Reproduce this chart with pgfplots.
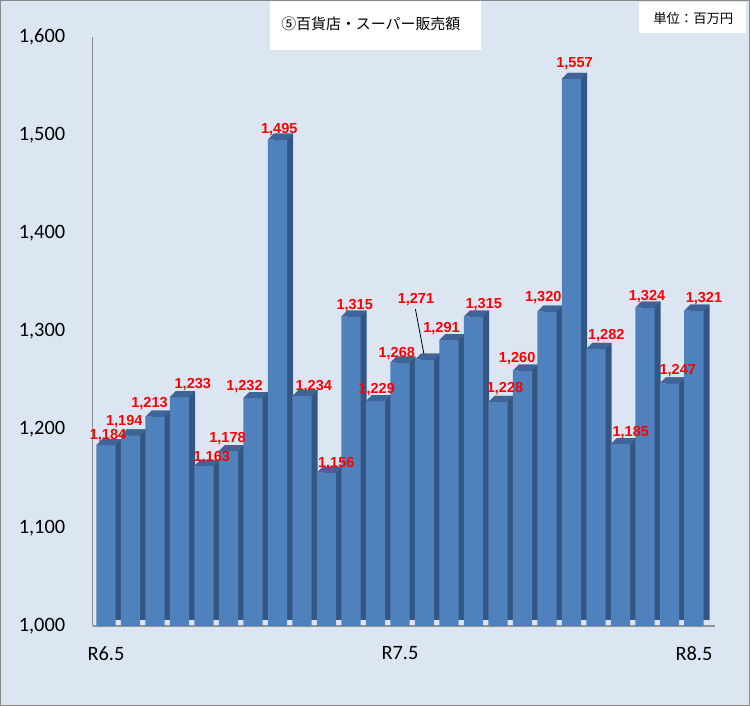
\documentclass[border=0pt]{standalone}
\usepackage{fontspec}
\setmainfont{Liberation Sans}
\newfontfamily\carlito{Carlito}
\newfontfamily\cjk{Noto Sans CJK JP}
\usepackage{pgfplots}
\usepackage{pgfplotstable}
\pgfplotsset{compat=1.18}

\definecolor{bg}{HTML}{DCE6F2}
\definecolor{front}{HTML}{4F81BD}
\definecolor{side}{HTML}{345683}
\definecolor{topc}{HTML}{3F6497}
\definecolor{frame}{HTML}{888888}

\pgfdeclareplotmark{topface}{%
  \pgfpathmoveto{\pgfpoint{-7.3pt}{0pt}}%
  \pgfpathlineto{\pgfpoint{7.3pt}{0pt}}%
  \pgfpathlineto{\pgfpoint{11.8pt}{4.5pt}}%
  \pgfpathlineto{\pgfpoint{-2.8pt}{4.5pt}}%
  \pgfpathclose
  \pgfusepathqfill}

% x, value, label, label offsets (pt)
\pgfplotstableread{
x y lab dx dy
0 1184 1,184 1.5 4.05
1 1194 1,194 -4.7 7.1
2 1213 1,213 -4.1 6.8
3 1233 1,233 10.0 6.8
4 1163 1,163 5.8 3.6
5 1178 1,178 -0.75 6.6
6 1232 1,232 -6.4 5.6
7 1495 1,495 1.3 4.35
8 1234 1,234 8.85 4.1
9 1156 1,156 7.35 3.8
10 1315 1,315 2.8 4.9
11 1229 1,229 0.9 5.85
12 1268 1,268 -2.4 4.05
13 1271 {} 0 0
14 1291 1,291 -5.6 5.4
15 1315 1,315 7.7 6.1
16 1228 1,228 5.25 7.35
17 1260 1,260 -4.0 6.1
18 1320 1,320 -2.8 7.9
19 1557 1,557 2.25 8.6
20 1282 1,282 7.7 7.35
21 1185 1,185 7.7 6.1
22 1324 1,324 1.5 5.1
23 1247 1,247 6.2 6.6
24 1321 1,321 7.5 6.1
}\datatable

\begin{document}
\begin{tikzpicture}
\useasboundingbox (0,0) rectangle (562.5pt,529.5pt);
\fill[bg] (0,0) rectangle (562.5pt,529.5pt);
\begin{axis}[
  at={(69.4pt,60pt)}, anchor=south west,
  scale only axis, width=466.7pt, height=442.1pt,
  xmin=-0.55, xmax=24.85, ymin=1000, ymax=1600,
  clip=false,
  axis x line*=bottom, axis y line*=left,
  x axis line style={draw=gray!85, line width=2.2pt, -},
  y axis line style={draw=gray!90, line width=1pt, -},
  major tick length=0pt,
  ytick={1000,1100,...,1600},
  xtick={0,12,24}, xticklabels={R6.5,R7.5,R8.5},
  /pgf/number format/.cd, 1000 sep={,}, assume math mode=true,
  /pgfplots/.cd,
  yticklabel style={font=\carlito\fontsize{15.3}{17}\selectfont, anchor=east, inner sep=0pt, xshift=-20.3pt},
  xticklabel style={font=\carlito\fontsize{15.3}{17}\selectfont, anchor=north, inner sep=0pt, yshift=-15pt},
]
% side faces
\addplot[ybar, bar width=14.6pt, bar shift=0pt, fill=side, draw=none, xshift=4.5pt, yshift=4.5pt]
  table[x=x, y=y] {\datatable};
% top faces
\addplot[only marks, mark=topface, color=topc, mark options={fill=topc, draw=none}]
  table[x=x, y=y] {\datatable};
% front faces
\addplot[ybar, bar width=14.6pt, bar shift=0pt, fill=front, draw=none,
  point meta=explicit symbolic,
  visualization depends on={\thisrow{dx} \as \ldx},
  visualization depends on={\thisrow{dy} \as \ldy},
  nodes near coords,
  every node near coord/.append style={font=\bfseries\fontsize{10.9}{12}\selectfont, text=red, anchor=base, inner sep=0pt, xshift=\ldx pt, yshift=\ldy pt}]
  table[x=x, y=y, meta=lab] {\datatable};
\draw[black, line width=0.6pt] ([xshift=0pt,yshift=2pt]axis cs:13,1271) -- ([xshift=-6.8pt,yshift=38pt]axis cs:13,1271);
\node[font=\bfseries\fontsize{10.9}{12}\selectfont, text=red, inner sep=0pt] at ([xshift=-6.4pt,yshift=45.5pt]axis cs:13,1271) {1,271};
\end{axis}
% title box
\fill[white] (202.5pt,492pt) rectangle (360.75pt,529.5pt);
\node[anchor=west, inner sep=0pt, font=\cjk\fontsize{11.2}{13}\selectfont] at (210.75pt,511.5pt) {⑤百貨店・スーパー販売額};
% unit box
\fill[white] (479.25pt,504.75pt) rectangle (559.5pt,528pt);
\node[anchor=west, inner sep=0pt, font=\cjk\fontsize{10}{12}\selectfont] at (489.75pt,516pt) {単位：百万円};
\draw[frame, line width=0.8pt] (0.4pt,0.4pt) rectangle (562.1pt,529.1pt);
\end{tikzpicture}
\end{document}
